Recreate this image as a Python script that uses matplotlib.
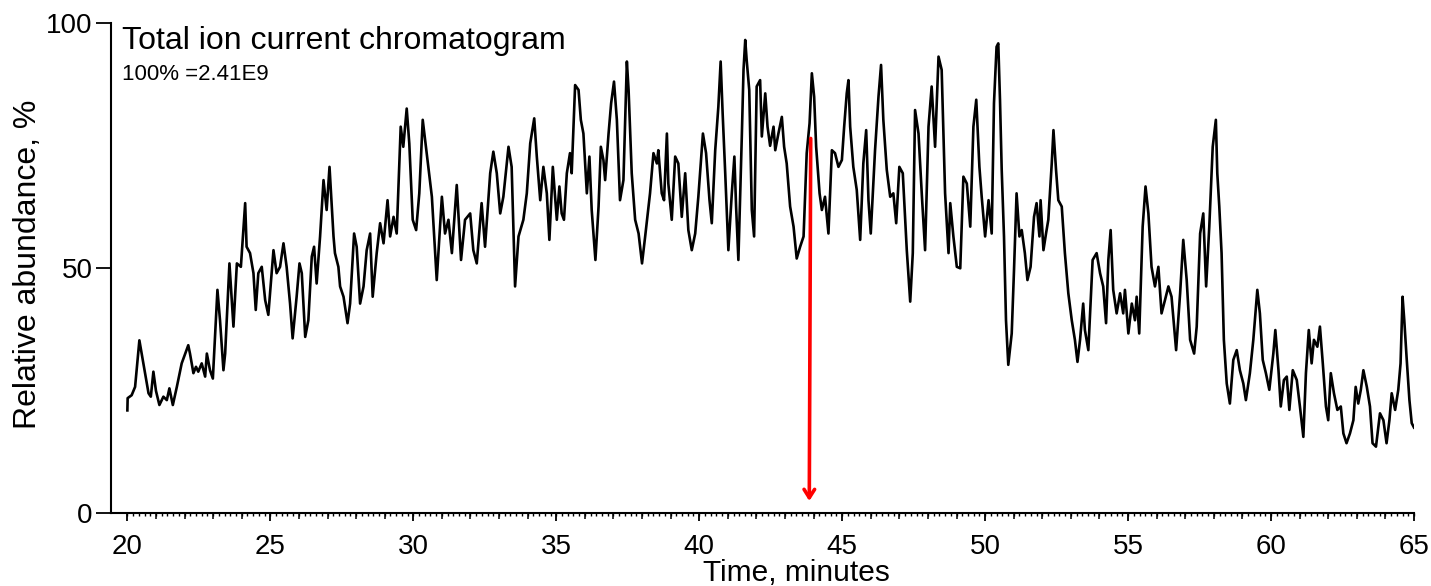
import matplotlib
matplotlib.use('Agg')
import matplotlib.pyplot as plt
import numpy as np

# ---- data ----
time_min = [
    20.0, 20.01, 20.15, 20.27, 20.42, 20.5, 20.62, 20.74, 20.82, 20.91, 21.0, 21.12, 21.26, 21.38, 21.47, 21.59,
    21.73, 21.9, 22.13, 22.19, 22.31, 22.4, 22.48, 22.6, 22.72, 22.78, 22.89, 22.99, 23.15, 23.24, 23.36, 23.42,
    23.57, 23.71, 23.83, 23.97, 24.12, 24.17, 24.29, 24.41, 24.49, 24.58, 24.7, 24.82, 24.93, 25.11, 25.22, 25.34,
    25.46, 25.57, 25.69, 25.78, 25.92, 26.02, 26.1, 26.22, 26.33, 26.45, 26.53, 26.62, 26.74, 26.86, 26.97, 27.07,
    27.21, 27.26, 27.38, 27.44, 27.56, 27.7, 27.79, 27.93, 28.02, 28.14, 28.26, 28.37, 28.49, 28.58, 28.72, 28.84,
    28.96, 29.1, 29.19, 29.31, 29.42, 29.56, 29.65, 29.77, 29.86, 29.98, 30.1, 30.21, 30.33, 30.47, 30.65, 30.82,
    31.0, 31.11, 31.23, 31.35, 31.52, 31.67, 31.81, 31.99, 32.1, 32.22, 32.39, 32.51, 32.69, 32.8, 32.92, 33.04,
    33.15, 33.33, 33.44, 33.56, 33.68, 33.85, 33.97, 34.09, 34.23, 34.32, 34.44, 34.55, 34.67, 34.76, 34.88, 35.02,
    35.11, 35.19, 35.27, 35.37, 35.48, 35.54, 35.66, 35.78, 35.86, 35.95, 36.07, 36.16, 36.24, 36.37, 36.48, 36.56,
    36.65, 36.71, 36.83, 36.92, 37.02, 37.12, 37.23, 37.35, 37.47, 37.53, 37.64, 37.76, 37.88, 38.0, 38.11, 38.28,
    38.4, 38.52, 38.57, 38.69, 38.77, 38.87, 38.92, 39.04, 39.16, 39.27, 39.39, 39.51, 39.62, 39.74, 39.86, 39.97,
    40.13, 40.24, 40.36, 40.44, 40.56, 40.67, 40.75, 40.82, 40.91, 41.02, 41.14, 41.23, 41.29, 41.37, 41.49, 41.55,
    41.61, 41.66, 41.75, 41.84, 41.92, 42.01, 42.13, 42.19, 42.31, 42.39, 42.48, 42.6, 42.66, 42.77, 42.89, 42.97,
    43.06, 43.18, 43.3, 43.41, 43.53, 43.65, 43.76, 43.86, 43.94, 44.02, 44.09, 44.21, 44.29, 44.4, 44.52, 44.64,
    44.75, 44.87, 44.99, 45.07, 45.16, 45.22, 45.28, 45.39, 45.51, 45.63, 45.74, 45.84, 45.92, 46.0, 46.15, 46.27,
    46.36, 46.44, 46.56, 46.68, 46.79, 46.89, 47.0, 47.12, 47.26, 47.38, 47.47, 47.55, 47.67, 47.79, 47.9, 48.02,
    48.13, 48.25, 48.37, 48.48, 48.6, 48.72, 48.78, 48.89, 49.01, 49.13, 49.24, 49.36, 49.48, 49.59, 49.69, 49.8,
    49.88, 50.0, 50.12, 50.23, 50.31, 50.4, 50.46, 50.52, 50.58, 50.66, 50.73, 50.81, 50.93, 51.01, 51.1, 51.2,
    51.28, 51.39, 51.48, 51.59, 51.71, 51.8, 51.9, 51.94, 52.04, 52.13, 52.21, 52.33, 52.39, 52.48, 52.56, 52.68,
    52.79, 52.91, 53.03, 53.14, 53.23, 53.32, 53.43, 53.49, 53.61, 53.76, 53.9, 54.02, 54.13, 54.23, 54.31, 54.39,
    54.48, 54.6, 54.72, 54.83, 54.89, 55.01, 55.13, 55.24, 55.3, 55.39, 55.51, 55.61, 55.71, 55.82, 55.94, 56.06,
    56.17, 56.29, 56.41, 56.52, 56.68, 56.82, 56.93, 57.05, 57.17, 57.31, 57.4, 57.52, 57.63, 57.73, 57.84, 57.96,
    58.07, 58.12, 58.19, 58.27, 58.35, 58.45, 58.56, 58.68, 58.8, 58.91, 59.03, 59.12, 59.26, 59.38, 59.52, 59.61,
    59.71, 59.82, 59.94, 60.08, 60.15, 60.26, 60.34, 60.45, 60.55, 60.64, 60.76, 60.9, 61.01, 61.13, 61.22, 61.32,
    61.42, 61.5, 61.62, 61.71, 61.81, 61.92, 62.0, 62.09, 62.2, 62.32, 62.44, 62.53, 62.64, 62.76, 62.88, 62.96,
    63.05, 63.14, 63.23, 63.35, 63.46, 63.55, 63.67, 63.81, 63.93, 64.04, 64.14, 64.22, 64.34, 64.45, 64.53, 64.6,
    64.66, 64.74, 64.84, 64.92, 65.0,
]
rel_abundance = [
    21.0, 23.5, 24.1, 25.8, 35.3, 32.6, 28.6, 24.5, 23.8, 28.9, 25.0, 22.1, 23.8, 23.1, 25.5, 22.1,
    25.8, 30.6, 34.3, 32.6, 28.6, 29.9, 28.9, 30.6, 27.9, 32.6, 29.2, 27.5, 45.6, 39.4, 29.2, 32.6,
    51.0, 38.1, 51.0, 50.3, 63.3, 54.4, 53.1, 49.0, 41.5, 49.0, 50.3, 43.5, 40.5, 53.7, 49.0, 50.3,
    55.1, 50.3, 42.8, 35.7, 44.2, 51.0, 49.0, 36.0, 39.4, 52.4, 54.4, 46.9, 56.5, 68.0, 61.9, 70.7,
    56.5, 53.1, 50.3, 46.3, 44.2, 38.8, 42.8, 57.1, 54.4, 42.8, 46.3, 53.7, 57.1, 44.2, 53.1, 59.2,
    55.1, 63.9, 56.5, 60.5, 57.1, 78.9, 74.8, 82.6, 75.5, 59.9, 57.8, 65.3, 80.3, 73.5, 64.6, 47.6,
    64.6, 57.1, 59.9, 53.1, 67.0, 51.7, 59.9, 61.2, 53.7, 51.0, 63.3, 54.4, 69.4, 73.8, 69.4, 61.2,
    64.6, 74.8, 70.7, 46.3, 56.5, 59.9, 65.3, 75.5, 80.6, 72.8, 63.9, 70.7, 65.3, 55.8, 70.7, 59.9,
    66.7, 61.2, 59.9, 69.4, 73.5, 69.4, 87.4, 86.4, 80.3, 77.5, 65.3, 72.8, 61.9, 51.7, 62.6, 74.8,
    72.1, 68.0, 77.5, 83.7, 88.1, 80.3, 63.9, 68.0, 92.2, 86.4, 69.4, 59.9, 57.1, 51.0, 56.5, 65.3,
    73.5, 71.4, 74.1, 65.3, 63.9, 77.5, 67.3, 59.9, 72.8, 71.4, 60.5, 69.4, 57.8, 53.7, 57.1, 64.6,
    77.5, 73.5, 63.9, 59.2, 74.1, 83.0, 92.2, 81.6, 69.4, 53.7, 65.3, 72.8, 62.6, 51.7, 76.9, 90.5,
    96.6, 92.5, 86.4, 61.9, 56.5, 87.1, 88.4, 76.9, 85.7, 78.9, 75.0, 78.9, 74.1, 77.5, 80.9, 74.8,
    71.4, 62.6, 58.5, 52.0, 54.4, 56.5, 73.5, 79.6, 89.8, 85.0, 74.8, 65.3, 61.9, 64.6, 57.1, 74.1,
    73.5, 70.7, 72.1, 78.9, 85.7, 88.4, 78.9, 70.7, 66.0, 55.8, 71.4, 78.2, 63.9, 57.1, 74.1, 85.0,
    91.5, 80.3, 70.1, 64.6, 65.3, 59.2, 70.7, 69.4, 53.7, 43.2, 53.1, 82.3, 77.5, 64.6, 53.7, 78.9,
    87.1, 74.8, 93.2, 90.5, 65.3, 53.1, 63.3, 56.5, 50.3, 50.0, 68.7, 67.3, 58.5, 78.9, 84.4, 70.7,
    64.6, 56.5, 63.9, 57.1, 83.7, 95.2, 95.9, 84.4, 70.1, 56.5, 39.4, 30.3, 36.7, 49.6, 65.3, 56.5,
    57.8, 53.1, 47.6, 50.3, 60.5, 63.3, 56.5, 63.9, 53.7, 57.1, 59.9, 71.4, 78.2, 70.1, 63.9, 62.6,
    53.1, 44.9, 39.4, 35.4, 30.9, 35.4, 42.8, 37.4, 33.3, 51.7, 53.1, 49.0, 46.3, 38.8, 51.7, 57.8,
    45.6, 40.8, 44.9, 40.8, 45.6, 36.7, 42.8, 39.4, 44.2, 36.7, 58.5, 66.7, 61.2, 50.3, 46.3, 50.3,
    40.8, 43.5, 46.3, 44.2, 33.3, 44.9, 55.8, 47.6, 35.4, 32.6, 38.1, 57.1, 61.2, 46.3, 58.5, 74.8,
    80.3, 69.4, 62.6, 53.1, 35.4, 26.5, 22.4, 31.3, 33.3, 29.2, 26.5, 23.1, 28.6, 35.4, 45.6, 40.8,
    31.3, 28.6, 25.2, 32.6, 37.4, 29.2, 21.8, 27.2, 27.9, 21.1, 29.2, 27.2, 21.8, 15.6, 28.6, 37.4,
    30.6, 35.4, 34.0, 38.1, 30.6, 21.8, 19.0, 28.6, 24.5, 21.1, 21.8, 16.3, 14.3, 16.3, 19.0, 25.8,
    22.4, 25.2, 29.2, 25.8, 21.8, 14.3, 13.6, 20.4, 19.0, 14.3, 19.0, 24.5, 21.1, 25.2, 30.6, 44.2,
    39.4, 31.9, 23.1, 18.4, 17.5,
]
x_major_ticks = [20, 25, 30, 35, 40, 45, 50, 55, 60, 65]
y_major_ticks = [0, 50, 100]
arrow_time = 43.88
arrow_top = 76.5
arrow_tip = 2.5
title_text = 'Total ion current chromatogram'
scale_text = '100% =2.41E9'
x_label = 'Time, minutes'
y_label = 'Relative abundance, %'

plt.rcParams['font.family'] = ['Liberation Sans', 'DejaVu Sans']

W, H = 1431, 586
fig = plt.figure(figsize=(W / 100, H / 100), dpi=100)
ax_left, ax_right, ax_bottom, ax_top = 110.5, 1414.0, 513.3, 23.3
ax = fig.add_axes([ax_left / W, 1 - ax_bottom / H, (ax_right - ax_left) / W, (ax_bottom - ax_top) / H])

ax.plot(time_min, rel_abundance, color='black', lw=1.9, solid_joinstyle='round', zorder=3)
ax.annotate('', xy=(arrow_time - 0.03, arrow_tip), xytext=(arrow_time + 0.02, arrow_top),
            arrowprops=dict(arrowstyle='->,head_length=0.6,head_width=0.38', color='#ff0000', lw=2.6,
                            shrinkA=0, shrinkB=0), zorder=4)

ax.set_xlim(19.41, 65)
ax.set_ylim(0, 100)
for s in ['top', 'right']:
    ax.spines[s].set_visible(False)
for s in ['left', 'bottom']:
    ax.spines[s].set_linewidth(1.5)

ax.set_xticks(x_major_ticks)
ax.set_xticks(np.arange(20, 65.01, 1.0), minor=True)
ax.set_yticks(y_major_ticks)
ax.tick_params(axis='x', which='major', direction='out', length=6, width=1.3, labelsize=20, pad=9)
ax.tick_params(axis='x', which='minor', direction='out', length=4, width=1.1)
ax.tick_params(axis='y', which='major', direction='out', length=11, width=1.3, labelsize=20, pad=2)

sec = ax.secondary_xaxis('bottom')
sec.set_xticks(np.arange(20, 65.01, 0.2))
sec.tick_params(axis='x', direction='out', length=2, width=1.0, labelbottom=False)
sec.spines['bottom'].set_visible(False)

fig.text(122 / W, 1 - 49 / H, title_text, fontsize=23, ha='left', va='baseline')
fig.text(122 / W, 1 - 80 / H, scale_text, fontsize=16, ha='left', va='baseline')
fig.text(28 / W, 1 - 264 / H, y_label, fontsize=23, rotation=90, ha='center', va='center')
fig.text(796 / W, 1 - 559 / H, x_label, fontsize=21.5, ha='center', va='top')

fig.savefig('out.png', dpi=100)
